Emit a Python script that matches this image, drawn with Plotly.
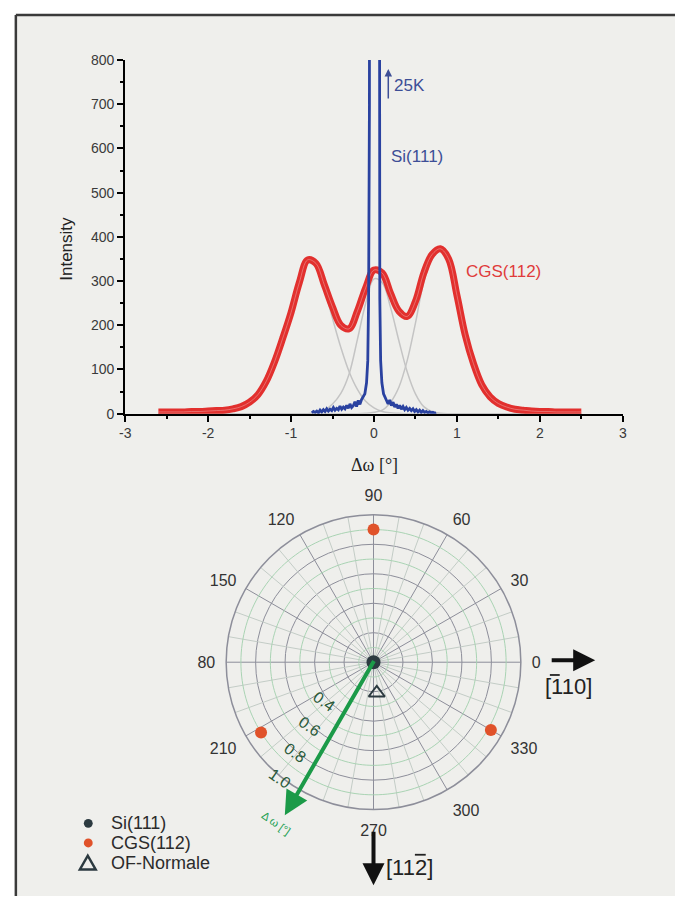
import math
import plotly.graph_objects as go

# ---------------- data: top chart ----------------
x_grid = [round(-2.6 + 0.1 * i, 1) for i in range(52)]

cgs_112 = [4, 4, 4, 4, 5, 5, 6, 7, 8, 11, 16, 26, 43, 73, 117, 171, 229, 297, 348, 340,
           292, 241, 200, 192, 232, 285, 325, 318, 272, 232, 220, 254, 318, 360, 373, 350,
           268, 178, 113, 65, 38, 23, 15, 10, 8, 6, 5, 5, 4, 4, 4, 4]

fit_g1 = [0, 0, 0, 0, 0, 1, 1, 2, 4, 7, 12, 21, 38, 68, 112, 166, 224, 292, 340, 333,
          283, 215, 150, 95, 55, 28, 13, 5, 2, 1] + [0] * 22
fit_g2 = [0] * 18 + [0, 2, 8, 22, 46, 90, 168, 250, 305, 296, 240, 165, 95, 45, 16, 5, 1] + [0] * 17
fit_g3 = [0] * 25 + [1, 3, 8, 26, 60, 120, 205, 298, 350, 368, 344, 262, 172, 108, 61, 34,
                     19, 11, 6, 3, 2, 1] + [0] * 5

si_x = [-0.75, -0.73, -0.71, -0.69, -0.67, -0.65, -0.63, -0.61, -0.59, -0.57, -0.55, -0.53,
        -0.51, -0.49, -0.47, -0.45, -0.43, -0.41, -0.39, -0.37, -0.35, -0.33, -0.31, -0.29,
        -0.27, -0.25, -0.23, -0.21, -0.19, -0.17, -0.15, -0.13, -0.11, -0.09, -0.075, -0.065,
        -0.055, -0.05, 0.055, 0.06, 0.07, 0.08, 0.095, 0.115, 0.135, 0.155, 0.17, 0.19, 0.21,
        0.23, 0.25, 0.27, 0.29, 0.31, 0.33, 0.35, 0.37, 0.39, 0.41, 0.43, 0.45, 0.47, 0.49,
        0.51, 0.53, 0.55, 0.57, 0.59, 0.61, 0.63, 0.65, 0.67, 0.69, 0.71, 0.73, 0.75]
si_111 = [2, 5, 3, 6, 2, 8, 4, 9, 5, 11, 6, 10, 7, 14, 8, 12, 9, 17, 10, 15, 11, 19, 12, 22,
          14, 18, 27, 16, 30, 21, 32, 38, 45, 70, 120, 260, 700, 25000, 25000, 700, 260, 120,
          70, 45, 36, 30, 22, 31, 18, 26, 15, 21, 12, 19, 10, 16, 9, 14, 8, 12, 7, 11, 5, 9,
          4, 8, 3, 7, 3, 5, 2, 4, 2, 3, 1, 2]

x_ticks = [-3, -2, -1, 0, 1, 2, 3]
x_ticktext = ["-3", "-2", "-1", "0", "1", "2", "3"]
y_ticks = [0, 100, 200, 300, 400, 500, 600, 700, 800]

# ---------------- data: pole figure ----------------
si_r, si_theta = [0.0], [0]
cgs_r, cgs_theta = [0.9, 0.9, 0.92], [90, 212, 330]
of_r, of_theta = [0.21], [276]
ang_tickvals = [0, 30, 60, 90, 120, 150, 180, 210, 240, 270, 300, 330]
ang_ticktext = ["0", "30", "60", "90", "120", "150", "80", "210", "", "270", "300", "330"]
minor_angles = [a for a in range(0, 360, 10) if a % 30 != 0]
green_rings = [0.1, 0.3, 0.5, 0.7, 0.9]
gray_rings = [0.2, 0.4, 0.6, 0.8]
scale_labels = ["0.4", "0.6", "0.8", "1.0"]
scale_r = [0.4, 0.6, 0.8, 1.0]
arrow_angle = 240
arrow_len = 1.2
legend_names = ["Si(111)", "CGS(112)", "OF-Normale"]
legend_colors = ["#2c3a40", "#e0522a", "#2c3a40"]

W, H = 679, 904
FONT = "Liberation Sans, Arial, sans-serif"


def px(x):
    return x / W


def py(y):
    return 1 - y / H


fig = go.Figure()

# ---- top chart traces ----
for g in (fit_g1, fit_g2, fit_g3):
    fig.add_trace(go.Scatter(x=x_grid, y=g, mode="lines", line=dict(color="#c4c4c4", width=1.5, shape="spline"),
                             showlegend=False, hoverinfo="skip"))
fig.add_trace(go.Scatter(x=x_grid, y=cgs_112, mode="lines", line=dict(color="#e2302e", width=7, shape="spline"),
                         showlegend=False, hoverinfo="skip"))
fig.add_trace(go.Scatter(x=x_grid, y=cgs_112, mode="lines", line=dict(color="rgba(240,200,200,0.6)", width=0.7, shape="spline"),
                         showlegend=False, hoverinfo="skip"))
fig.add_trace(go.Scatter(x=si_x, y=si_111, mode="lines", line=dict(color="#2a42a0", width=2.8),
                         showlegend=False, hoverinfo="skip"))

# ---- pole figure traces ----
mr, mt = [], []
for a in minor_angles:
    mr += [0, 1, None]
    mt += [a, a, None]
fig.add_trace(go.Scatterpolar(r=mr, theta=mt, mode="lines", line=dict(color="#c3ccc6", width=1),
                              showlegend=False, hoverinfo="skip"))
ring_theta = list(range(0, 362, 2))
for rr in green_rings:
    fig.add_trace(go.Scatterpolar(r=[rr] * len(ring_theta), theta=ring_theta, mode="lines",
                                  line=dict(color="#a9d3b3", width=1), showlegend=False, hoverinfo="skip"))
fig.add_trace(go.Scatterpolar(r=cgs_r, theta=cgs_theta, mode="markers",
                              marker=dict(color="#e0522a", size=12), showlegend=False))
fig.add_trace(go.Scatterpolar(r=si_r, theta=si_theta, mode="markers",
                              marker=dict(color="#2c3a40", size=14), showlegend=False))
fig.add_trace(go.Scatterpolar(r=of_r, theta=of_theta, mode="markers",
                              marker=dict(symbol="triangle-up-open", color="#2c3a40", size=14, line=dict(width=2)),
                              showlegend=False))

axis_common = dict(showline=True, linecolor="black", linewidth=2, ticks="outside", ticklen=6, tickwidth=1.5,
                   tickcolor="black", showgrid=False, zeroline=False,
                   tickfont=dict(family=FONT, size=14, color="#3a3a3a"))

fig.update_layout(
    width=W, height=H, margin=dict(l=0, r=0, t=0, b=0),
    paper_bgcolor="white", plot_bgcolor="rgba(0,0,0,0)",
    showlegend=False,
    xaxis=dict(domain=[px(121), px(626)], range=[-3, 3], tickvals=x_ticks, ticktext=x_ticktext, anchor="y",
               minor=dict(ticks="outside", ticklen=3, dtick=0.5, tick0=0, tickcolor="black", showgrid=False),
               **axis_common),
    yaxis=dict(domain=[py(413), py(53)], range=[0, 800], tickvals=y_ticks, anchor="x",
               minor=dict(ticks="outside", ticklen=3, dtick=50, tick0=0, tickcolor="black", showgrid=False),
               **axis_common),
    polar=dict(
        domain=dict(x=[px(223), px(523)], y=[py(816), py(516)]),
        bgcolor="rgba(0,0,0,0)",
        radialaxis=dict(range=[0, 1], tickvals=gray_rings, showticklabels=False, ticks="", showline=False,
                        gridcolor="#8d8e9a", gridwidth=1),
        angularaxis=dict(tickvals=ang_tickvals, ticktext=ang_ticktext, direction="counterclockwise", rotation=0,
                         ticks="outside", ticklen=7, tickcolor="rgba(0,0,0,0)",
                         showline=True, linecolor="#8d8e9a", linewidth=1.5, gridcolor="#8d8e9a",
                         tickfont=dict(family=FONT, size=16, color="#333333")),
    ),
)

shapes = [
    dict(type="rect", xref="paper", yref="paper", x0=px(10), x1=1, y0=0, y1=py(7),
         fillcolor="#efefec", line=dict(width=0), layer="below"),
    dict(type="line", xref="paper", yref="paper", x0=px(10), x1=1, y0=py(7), y1=py(7),
         line=dict(color="#3a3a3a", width=2.5)),
    dict(type="line", xref="paper", yref="paper", x0=px(10), x1=px(10), y0=0, y1=py(7),
         line=dict(color="#3a3a3a", width=2.5)),
    # overbars for Miller indices
    dict(type="line", xref="paper", yref="paper", x0=px(552), x1=px(562), y0=py(679), y1=py(679),
         line=dict(color="#222222", width=1.8)),
    dict(type="line", xref="paper", yref="paper", x0=px(415), x1=px(426), y0=py(862), y1=py(862),
         line=dict(color="#222222", width=1.8)),
]
# legend symbols
leg_y = [830, 850, 870]
for i, (nm, col) in enumerate(zip(legend_names, legend_colors)):
    yy = leg_y[i]
    if i < 2:
        shapes.append(dict(type="circle", xref="paper", yref="paper", x0=px(79), x1=px(88), y0=py(yy + 4.5),
                           y1=py(yy - 4.5), fillcolor=col, line=dict(width=0)))
    else:
        shapes.append(dict(type="path", xref="paper", yref="paper",
                           path=f"M {px(75)},{py(yy + 7)} L {px(91)},{py(yy + 7)} L {px(83)},{py(yy - 7)} Z",
                           fillcolor="rgba(0,0,0,0)", line=dict(color=col, width=2.5)))
fig.update_layout(shapes=shapes)

ann = []


def add_text(x, y, text, size, color, family=FONT, xanchor="center", angle=0):
    ann.append(dict(x=px(x), y=py(y), xref="paper", yref="paper", text=text, showarrow=False,
                    xanchor=xanchor, yanchor="middle", textangle=angle,
                    font=dict(family=family, size=size, color=color)))


def add_arrow(x0, y0, x1, y1, width, size, color):
    ann.append(dict(x=px(x1), y=py(y1), xref="paper", yref="paper", text="", showarrow=True,
                    ax=x0 - x1, ay=y0 - y1, arrowhead=2, arrowwidth=width, arrowsize=size,
                    arrowcolor=color, standoff=0))


# axis titles
add_text(62, 245, "Intensity", 17, "#222222", angle=-90)
add_text(374, 465, "Δω [°]", 18, "#222222", family="Liberation Serif, Times New Roman, serif")
# top labels
add_text(392, 79, "25K", 17, "#3d4e96", xanchor="left")
add_arrow(388, 93, 388, 62, 1.5, 1, "#3d4e96")
add_text(389, 151, "Si(111)", 17, "#3d4e96", xanchor="left")
add_text(465, 268, "CGS(112)", 17, "#e03b3b", xanchor="left")

# pole figure
cxp, cyp, R = 373, 666, 150
ca, sa = math.cos(math.radians(arrow_angle)), math.sin(math.radians(arrow_angle))
tipx, tipy = cxp + arrow_len * R * ca, cyp - arrow_len * R * sa
add_arrow(cxp, cyp, tipx, tipy, 4, 1.2, "#1b9a48")
for lab, rv in zip(scale_labels, scale_r):
    add_text(cxp + rv * R * ca - 20, cyp - rv * R * sa - 12, lab, 16, "#2a5a3a", angle=35)
add_text(274, 830, "Δ ω [°]", 11, "#23a052", angle=35)

# crystal direction arrows
add_arrow(553, 664, 598, 664, 4, 1.1, "#111111")
add_text(545, 691, "[110]", 22, "#222222", xanchor="left")
add_arrow(373, 838, 373, 893, 4, 1.1, "#111111")
add_text(384, 875, "[112]", 22, "#222222", xanchor="left")

# legend texts
for nm, yy in zip(legend_names, leg_y):
    add_text(105, yy, nm, 18, "#2b2b2b", xanchor="left")

fig.update_layout(annotations=ann)

fig.write_html("out.html")
